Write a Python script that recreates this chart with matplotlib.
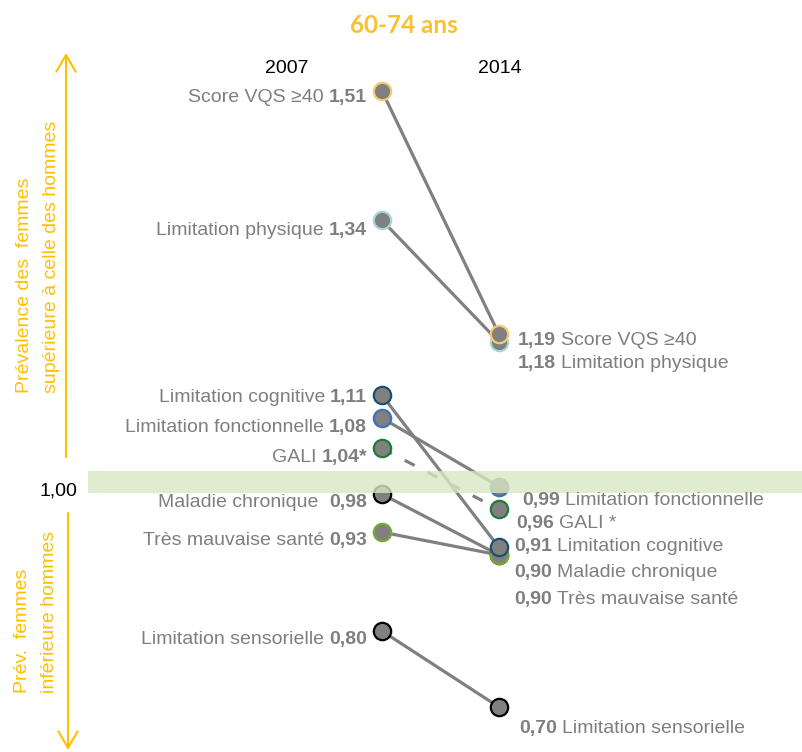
import matplotlib
matplotlib.use("Agg")
import matplotlib.pyplot as plt
from matplotlib import font_manager

# ---------------- data ----------------
categories = ["Score VQS ≥40", "Limitation physique", "Limitation cognitive",
              "Limitation fonctionnelle", "GALI", "Maladie chronique",
              "Très mauvaise santé", "Limitation sensorielle"]
v2007 = [1.51, 1.34, 1.11, 1.08, 1.04, 0.98, 0.93, 0.80]
v2014 = [1.19, 1.18, 0.91, 0.99, 0.96, 0.90, 0.90, 0.70]
signif_2007 = ["", "", "", "", "*", "", "", ""]
signif_2014 = ["", "", "", "", " *", "", "", ""]
years = ["2007", "2014"]
title = "60-74 ans"
ref_label = "1,00"
upper_note = ["Prévalence des  femmes", "supérieure à celle des hommes"]
lower_note = ["Prév.  femmes", "inférieure hommes"]

# ---------------- styles / layout ----------------
edge_colors = ["#F6C96E", "#A8D5D8", "#1B4F72", "#3B74B8", "#1E7B3C",
               "#000000", "#77A834", "#000000"]
line_styles = ["-", "-", "-", "-", (0, (3.5, 4.5)), "-", "-", "-"]
left_dy = [10.7, 15, 7, 14, 13.5, 13, 13, 13]       # baseline offset (px, down)
right_dy = [10.6, 26, 4, 18, 19, 22.5, 49.5, 26]
right_dx = [19, 19, 15, 23, 17, 15, 15, 20]
left_gap = [5, 5, 5, 5, 5, 11, 5, 5]
draw_order = [7, 5, 6, 4, 3, 2, 1, 0]

names = {f.name for f in font_manager.fontManager.ttflist}
if "Liberation Sans Narrow" in names:
    FONT = ["Liberation Sans Narrow", "DejaVu Sans"]
    FS = 17
else:
    FONT = ["Liberation Sans", "DejaVu Sans"]
    FS = 14
GREY = "#7F7F7F"
YELLOW = "#FFC000"

W, H = 803, 752
fig = plt.figure(figsize=(W / 100, H / 100), dpi=100)
ax = fig.add_axes([0, 0, 1, 1])
ax.axis("off")

x0_px, span_px = 382, 117
ax.set_xlim(-x0_px / span_px, (W - x0_px) / span_px)
ppu = 760.6
top = 1.51 + 91 / ppu
ax.set_ylim(top - H / ppu, top)


def fx(px):
    return px / W


def fy(py):
    return 1 - py / H


# lines
for i in range(len(categories)):
    ax.plot([0, 1], [v2007[i], v2014[i]], color="#808080", lw=2.3,
            linestyle=line_styles[i], zorder=2, solid_capstyle="butt")

# dots
for k, i in enumerate(draw_order):
    ax.plot([0, 1], [v2007[i], v2014[i]], linestyle="none", marker="o",
            markersize=12.5, markerfacecolor="#808080",
            markeredgecolor=edge_colors[i], markeredgewidth=1.6,
            zorder=3 + k * 0.1)

# reference band around 1.00
ax.axhspan(0.982, 1.011, xmin=88 / W, xmax=1, color="#D9E8C4", alpha=0.8,
           lw=0, zorder=5)

renderer = fig.canvas.get_renderer()


def fmt(v):
    return f"{v:.2f}".replace(".", ",")


for i, name in enumerate(categories):
    # left (2007)
    t = ax.annotate(fmt(v2007[i]) + signif_2007[i], xy=(0, v2007[i]),
                    xytext=(-15, -left_dy[i]), textcoords="offset pixels",
                    ha="right", va="baseline", fontsize=FS, fontweight="bold",
                    color=GREY, family=FONT, zorder=6)
    w = t.get_window_extent(renderer=renderer).width
    ax.annotate(name, xy=(0, v2007[i]),
                xytext=(-15 - w - left_gap[i], -left_dy[i]), textcoords="offset pixels",
                ha="right", va="baseline", fontsize=FS, color=GREY,
                family=FONT, zorder=6)
    # right (2014)
    t = ax.annotate(fmt(v2014[i]), xy=(1, v2014[i]),
                    xytext=(right_dx[i], -right_dy[i]), textcoords="offset pixels",
                    ha="left", va="baseline", fontsize=FS, fontweight="bold",
                    color=GREY, family=FONT, zorder=6)
    w = t.get_window_extent(renderer=renderer).width
    ax.annotate(name + signif_2014[i], xy=(1, v2014[i]),
                xytext=(right_dx[i] + w + 5, -right_dy[i]), textcoords="offset pixels",
                ha="left", va="baseline", fontsize=FS, color=GREY,
                family=FONT, zorder=6)

# headers
fig.text(fx(404), fy(33), title, ha="center", va="baseline", fontsize=17.5,
         fontweight="bold", color="#F9C12E", family=["Lato", "DejaVu Sans"])
fig.text(fx(287), fy(73), years[0], ha="center", va="baseline", fontsize=FS,
         color="black", family=FONT)
fig.text(fx(500), fy(73), years[1], ha="center", va="baseline", fontsize=FS,
         color="black", family=FONT)
fig.text(fx(58), fy(496), ref_label, ha="center", va="baseline", fontsize=FS,
         color="black", family=FONT)

# side arrows and annotations
arrow_kw = dict(arrowstyle="->,head_length=0.6,head_width=0.35", color=YELLOW,
                lw=1.5, mutation_scale=20, shrinkA=0, shrinkB=0)
ax.annotate("", xy=(fx(66), fy(53)), xytext=(fx(66), fy(457)),
            xycoords="figure fraction", textcoords="figure fraction",
            arrowprops=arrow_kw)
ax.annotate("", xy=(fx(68), fy(750)), xytext=(fx(68), fy(513)),
            xycoords="figure fraction", textcoords="figure fraction",
            arrowprops=arrow_kw)
for line, xpx in zip(upper_note, [25, 52]):
    fig.text(fx(xpx), fy(393), line, rotation=90, ha="center", va="bottom",
             fontsize=FS, color=YELLOW, family=FONT)
for line, xpx in zip(lower_note, [23, 50]):
    fig.text(fx(xpx), fy(693), line, rotation=90, ha="center", va="bottom",
             fontsize=FS, color=YELLOW, family=FONT)

fig.savefig("out.png", dpi=100)
